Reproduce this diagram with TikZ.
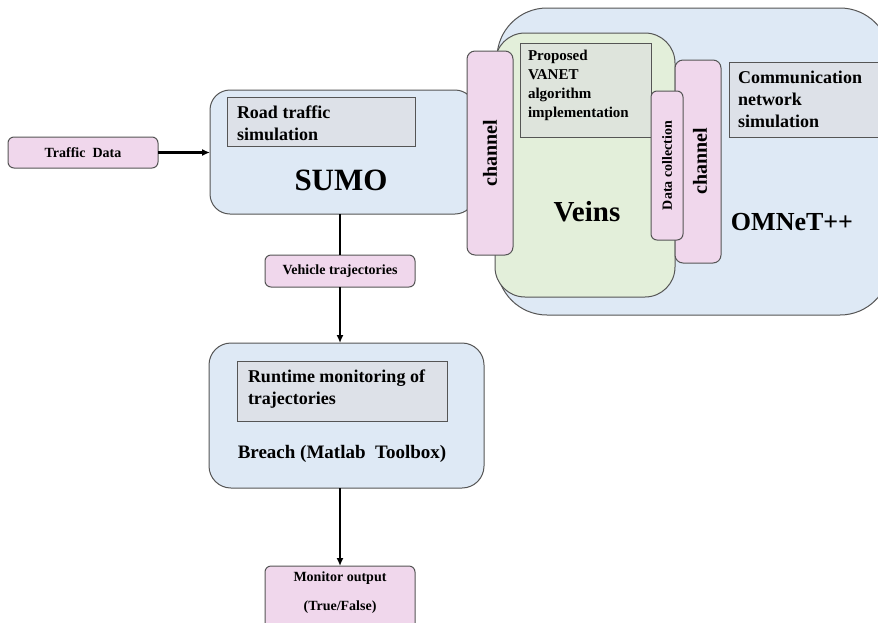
\documentclass[tikz,border=0pt]{standalone}
\usepackage{fontspec}
\setmainfont{Liberation Serif}
\usetikzlibrary{arrows.meta}
\definecolor{bluefill}{RGB}{222,233,245}
\definecolor{pinkfill}{RGB}{240,215,236}
\definecolor{greenfill}{RGB}{227,239,218}
\definecolor{greyfill}{RGB}{221,225,232}
\definecolor{greygreen}{RGB}{222,228,220}
\definecolor{edgecol}{RGB}{85,85,85}
\tikzset{
  shp/.style={draw=edgecol, line width=1pt, inner sep=0pt, outer sep=0pt},
  bluebox/.style={shp, fill=bluefill},
  pinkbox/.style={shp, fill=pinkfill, rounded corners=6pt},
  innerbox/.style={shp, fill=greyfill},
  txt/.style={inner sep=0pt, outer sep=0pt, font=\bfseries},
  conn/.style={line width=2.5pt, black},
  arr/.style={conn, -{Latex[length=8pt,width=7pt]}},
}
\newcommand{\fs}[2]{\fontsize{#1}{#2}\selectfont}
\begin{document}
\begin{tikzpicture}[x=1pt,y=-1pt]
\useasboundingbox (0,0) rectangle (878,622);
\clip (0,0) rectangle (878,622);
\fill[white] (0,0) rectangle (878,622);
% OMNeT++ and Veins
\node[bluebox, rounded corners=50pt, minimum width=393pt, minimum height=307pt] (omnet) at (693.5,161.5) {};
\node[shp, fill=greenfill, rounded corners=30pt, minimum width=180pt, minimum height=264pt] (veins) at (585,165) {};
% SUMO
\node[bluebox, rounded corners=20pt, minimum width=265pt, minimum height=124pt] (sumo) at (342.5,152) {};
\node[innerbox, minimum width=188pt, minimum height=49pt] (road) at (321,121.5) {};
% Breach
\node[bluebox, rounded corners=22pt, minimum width=275pt, minimum height=145pt] (breach) at (346.5,415.5) {};
\node[innerbox, minimum width=210pt, minimum height=60pt] (runtime) at (342,391) {};
% small pink boxes
\node[pinkbox, minimum width=150pt, minimum height=31pt] (traffic) at (83,152.5) {};
\node[pinkbox, minimum width=150pt, minimum height=32pt] (vehicle) at (340,271) {};
\node[pinkbox, minimum width=150pt, minimum height=74pt] (monitor) at (340,603) {};
% channels
\node[pinkbox, rounded corners=8pt, minimum width=46pt, minimum height=204pt] (lchan) at (490,153) {};
\node[shp, fill=greygreen, minimum width=131pt, minimum height=94pt] (proposed) at (585.5,90) {};
\node[pinkbox, rounded corners=8pt, minimum width=46pt, minimum height=203pt] (rchan) at (698,161.5) {};
\node[pinkbox, rounded corners=6pt, minimum width=32pt, minimum height=149pt] (datacol) at (667,165.5) {};
\node[innerbox, minimum width=153pt, minimum height=75pt] (comm) at (805.5,99.5) {};
% texts
\node[txt, font=\bfseries\fs{14}{17}] (ttraffic) at (traffic) {Traffic\ \ Data};
\node[txt, font=\bfseries\fs{18}{22}, align=left, anchor=north west] (troad) at (237,106) {Road traffic\\simulation};
\node[txt, font=\bfseries\fs{31}{36}] (tsumo) at (341,180) {SUMO};
\node[txt, font=\bfseries\fs{14}{17}] (tvehicle) at (vehicle) {Vehicle trajectories};
\node[txt, font=\bfseries\fs{18}{22}, align=left, anchor=north west] (truntime) at (248,370) {Runtime monitoring of\\trajectories};
\node[txt, font=\bfseries\fs{19}{22}] (tbreach) at (342,454) {Breach (Matlab\ \ Toolbox)};
\node[txt, font=\bfseries\fs{14}{17}] (tmon1) at (340,578) {Monitor\ output};
\node[txt, font=\bfseries\fs{14}{17}] (tmon2) at (340,607) {(True/False)};
\node[txt, font=\bfseries\fs{20}{24}, rotate=90] (tlchan) at (lchan) {channel};
\node[txt, font=\bfseries\fs{20}{24}, rotate=90] (trchan) at (700,161) {channel};
\node[txt, font=\bfseries\fs{14}{17}, rotate=90] (tdatacol) at (datacol) {Data collection};
\node[txt, font=\bfseries\fs{15}{19}, align=left, anchor=north west] (tproposed) at (528,50) {Proposed\\VANET\\algorithm\\implementation};
\node[txt, font=\bfseries\fs{18}{22}, align=left, anchor=north west] (tcomm) at (738,71) {Communication\\network\\simulation};
\node[txt, font=\bfseries\fs{29}{34}] (tveins) at (587,212) {Veins};
\node[txt, font=\bfseries\fs{26}{30}] (tomnet) at (792,222) {OMNeT++};
% connectors
\draw[arr] (traffic.east) -- (sumo.west |- traffic.east);
\draw[conn] (vehicle.north |- sumo.south) -- (vehicle.north);
\draw[arr] (vehicle.south) -- (vehicle.south |- breach.north);
\draw[arr] (monitor.north |- breach.south) -- (monitor.north);
\end{tikzpicture}
\end{document}
